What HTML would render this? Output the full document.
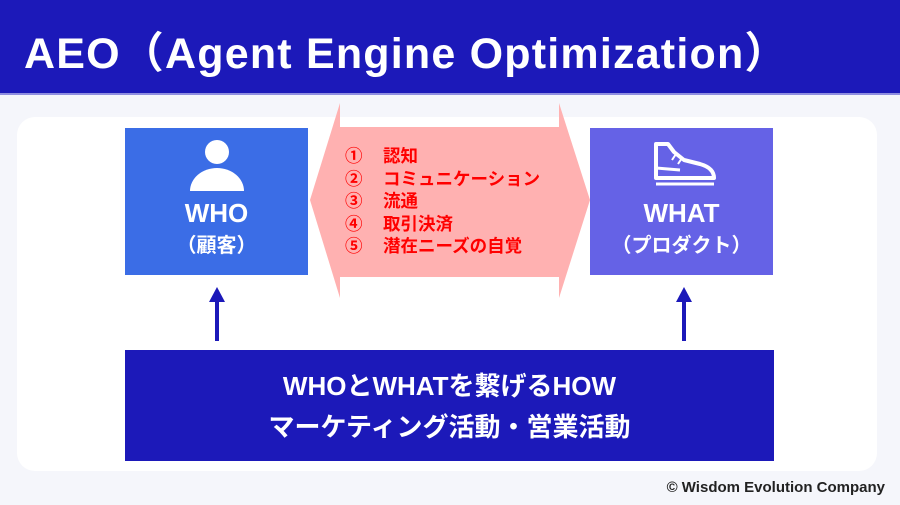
<!DOCTYPE html>
<html><head><meta charset="utf-8"><style>
body{margin:0;width:900px;height:505px;background:#f5f6fb;position:relative;overflow:hidden;font-family:"Liberation Sans","Noto Sans CJK JP",sans-serif;font-weight:bold}
.hdr{position:absolute;left:0;top:0;width:900px;height:93px;background:#1c19b9;border-bottom:2px solid #8f8ee0}
.title{position:absolute;left:24px;top:19px;color:#fff;font-size:43px;letter-spacing:1.2px;white-space:nowrap}
.card{position:absolute;left:17px;top:117px;width:860px;height:354px;background:#fff;border-radius:18px}
.box{position:absolute;color:#fff;text-align:center}
.t{position:absolute;width:100%;text-align:center;white-space:nowrap}
.red{position:absolute;color:#f00;font-size:17.5px;line-height:22.5px;white-space:nowrap}
</style></head><body>
<div class="hdr"><div class="title">AEO（Agent Engine Optimization）</div></div>
<div class="card"></div>
<svg style="position:absolute;left:0;top:0" width="900" height="505">
<polygon points="310,200 340,103 340,127 559,127 559,103 590,200 559,298 559,277 340,277 340,298" fill="#ffb1b1"/>
<line x1="217" y1="341" x2="217" y2="300" stroke="#1c19b9" stroke-width="4"/>
<polygon points="209,302 217,287 225,302" fill="#1c19b9"/>
<line x1="684" y1="341" x2="684" y2="300" stroke="#1c19b9" stroke-width="4"/>
<polygon points="676,302 684,287 692,302" fill="#1c19b9"/>
</svg>
<div class="box" style="left:125px;top:128px;width:183px;height:147px;background:#3b6de6">
<svg style="position:absolute;left:64px;top:10px" width="56" height="56"><circle cx="28" cy="14" r="12" fill="#fff"/><path d="M1,53 A27,23 0 0 1 55,53 Z" fill="#fff"/></svg>
<div class="t" style="top:70px;font-size:26px">WHO</div>
<div class="t" style="top:101px;font-size:20px">（顧客）</div>
</div>
<div class="box" style="left:590px;top:128px;width:183px;height:147px;background:#6562e6">
<svg style="position:absolute;left:60px;top:12px" width="70" height="46"><path d="M6,4 L18,4 L24,12 L34,20 L50,24 Q64,28 64,38 L6,38 Z" fill="none" stroke="#fff" stroke-width="4" stroke-linejoin="round"/><line x1="6" y1="44" x2="64" y2="44" stroke="#fff" stroke-width="3"/><line x1="26" y1="14" x2="22" y2="20" stroke="#fff" stroke-width="2"/><line x1="32" y1="18" x2="28" y2="24" stroke="#fff" stroke-width="2"/><line x1="6" y1="28" x2="30" y2="30" stroke="#fff" stroke-width="3"/></svg>
<div class="t" style="top:70px;font-size:26px">WHAT</div>
<div class="t" style="top:101px;font-size:20px">（プロダクト）</div>
</div>
<div class="red" style="left:345px;top:145px">①<br>②<br>③<br>④<br>⑤</div>
<div class="red" style="left:383px;top:145px">認知<br>コミュニケーション<br>流通<br>取引決済<br>潜在ニーズの自覚</div>
<div class="box" style="left:125px;top:350px;width:649px;height:111px;background:#1c19b9">
<div class="t" style="top:16px;font-size:26px">WHOとWHATを繋げるHOW</div>
<div class="t" style="top:57px;font-size:26px">マーケティング活動・営業活動</div>
</div>
<div style="position:absolute;right:15px;top:479px;font-size:15px;color:#222">© Wisdom Evolution Company</div>
</body></html>
